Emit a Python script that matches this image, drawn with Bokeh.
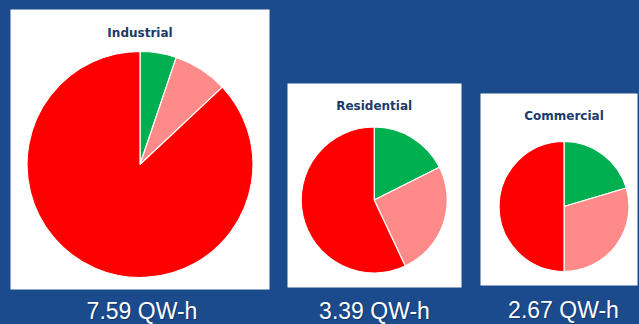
import math
from bokeh.plotting import figure
from bokeh.models import Range1d, ColumnDataSource, GlobalInlineStyleSheet
from bokeh.core.properties import value
from bokeh.embed import file_html
from bokeh.resources import INLINE

# ---- data ----
sectors = ["Industrial", "Residential", "Commercial"]
totals_qwh = [7.59, 3.39, 2.67]
slice_names = ["green", "pink", "red"]
share_green = [5.2, 17.6, 20.4]
share_pink = [7.8, 25.4, 29.6]
share_red = [87.0, 57.0, 50.0]

# ---- layout / style (page pixel coordinates) ----
W, H = 639, 324
BG = "#1B4A8D"
slice_colors = ["#00B050", "#FF8A8A", "#FF0000"]
panels = [  # left, top, right, bottom
    (10, 9, 269, 289),
    (287, 83, 461, 287),
    (480, 93, 637, 285),
]
centers = [(139.5, 164.0), (373.7, 199.5), (563.5, 206.0)]
radii = [113.0, 73.0, 65.0]
title_baselines = [32.0, 105.7, 115.3]
label_baselines = [310.5, 310.5, 309.0]
label_x = [141.5, 374.0, 563.0]

def Y(y_page):
    return H - y_page

p = figure(width=W, height=H, output_backend="svg", toolbar_location=None,
           x_range=Range1d(0, W), y_range=Range1d(0, H),
           x_axis_type=None, y_axis_type=None, min_border=0,
           background_fill_color=BG, border_fill_color=BG,
           outline_line_color=None)
p.grid.visible = False
p.stylesheets = [GlobalInlineStyleSheet(css="body{background:%s;}" % BG)]

# white panels
p.quad(left=[b[0] for b in panels], right=[b[2] for b in panels],
       top=[Y(b[1]) for b in panels], bottom=[Y(b[3]) for b in panels],
       fill_color="white", line_color=None)

# pies
for i, name in enumerate(sectors):
    shares = [share_green[i], share_pink[i], share_red[i]]
    tot = sum(shares)
    starts, ends = [], []
    cum = 0.0
    for s in shares:
        starts.append(math.pi / 2 - 2 * math.pi * cum / tot)
        cum += s
        ends.append(math.pi / 2 - 2 * math.pi * cum / tot)
    src = ColumnDataSource(dict(
        x=[centers[i][0]] * 3, y=[Y(centers[i][1])] * 3,
        start=starts, end=ends, color=slice_colors, name=slice_names))
    p.wedge(x="x", y="y", radius=radii[i], start_angle="start", end_angle="end",
            direction="clock", fill_color="color", line_color="white",
            line_width=1.2, source=src)

# titles
p.text(x=[c[0] for c in centers], y=[Y(b) for b in title_baselines], text=sectors,
       text_font=value("DejaVu Sans"), text_font_style="bold",
       text_font_size="12px", text_color="#1B3A6B",
       text_align="center", text_baseline="alphabetic")

# totals below
labels = ["%.2f QW-h" % t for t in totals_qwh]
p.text(x=[x + 1 for x in label_x], y=[Y(b) - 1 for b in label_baselines], text=labels,
       text_font=value("Liberation Sans"), text_font_size="23px",
       text_color="#0B2550", text_alpha=0.6,
       text_align="center", text_baseline="alphabetic")
p.text(x=label_x, y=[Y(b) for b in label_baselines], text=labels,
       text_font=value("Liberation Sans"), text_font_size="23px",
       text_color="white", text_align="center", text_baseline="alphabetic")

open("out.html", "w").write(file_html(p, INLINE))
